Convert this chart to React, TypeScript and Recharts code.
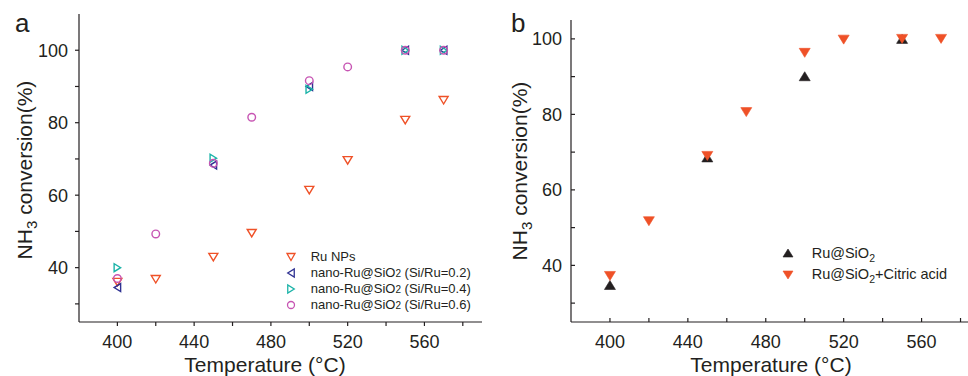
import React from 'react';
import { ScatterChart, Scatter, XAxis, YAxis, Label, Legend } from 'recharts';

const FONT = '"Liberation Sans", Arial, Helvetica, sans-serif';
const INK = '#231F20';
const ORANGE = '#EF5127';
const NAVY = '#2E3192';
const TEAL = '#1BB3A8';
const MAGENTA = '#C755B3';

// ---- data (panel a) ----
const tempsA = [400, 420, 450, 470, 500, 520, 550, 570];
const tempsA2 = [400, 450, 500, 550, 570];
const ruNPs = [36, 36.8, 42.9, 49.5, 61.4, 69.6, 80.7, 86.2];
const siRu02 = [34.5, 68.3, 90.0, 100, 100];
const siRu04 = [40, 70.2, 89.2, 100, 100];
const siRu06 = [37, 49.3, 68.8, 81.5, 91.6, 95.4, 100, 100];

// ---- data (panel b) ----
const tempsB1 = [400, 450, 500, 550];
const ruSiO2 = [34.8, 68.6, 90.1, 100];
const tempsB2 = [400, 420, 450, 470, 500, 520, 550, 570];
const citric = [37.2, 51.7, 69, 80.6, 96.3, 99.8, 100, 100];

// ---- ticks ----
const xTicks = [400, 420, 440, 460, 480, 500, 520, 540, 560, 580];
const xLabelTicks = [400, 440, 480, 520, 560];
const yTicks = [30, 40, 50, 60, 70, 80, 90, 100];
const yLabelTicks = [40, 60, 80, 100];

const toPts = (xs: number[], ys: number[]) => xs.map((x, i) => ({ x, y: ys[i] }));

const fmtX = (v: number) => (xLabelTicks.includes(v) ? String(v) : '');
const fmtY = (v: number) => (yLabelTicks.includes(v) ? String(v) : '');

type Dir = 'down' | 'up' | 'left' | 'right' | 'circle';

const triPoints = (dir: Dir, cx: number, cy: number, w: number, h: number) => {
  if (dir === 'down') return `${cx - w / 2},${cy - h / 2} ${cx + w / 2},${cy - h / 2} ${cx},${cy + h / 2}`;
  if (dir === 'up') return `${cx - w / 2},${cy + h / 2} ${cx + w / 2},${cy + h / 2} ${cx},${cy - h / 2}`;
  if (dir === 'left') return `${cx + h / 2},${cy - w / 2} ${cx + h / 2},${cy + w / 2} ${cx - h / 2},${cy}`;
  return `${cx - h / 2},${cy - w / 2} ${cx - h / 2},${cy + w / 2} ${cx + h / 2},${cy}`;
};

const makeShape = (dir: Dir, color: string, filled: boolean, w: number, h: number) => (props: any) => {
  const { cx, cy } = props;
  if (cx == null || cy == null) return <g />;
  if (dir === 'circle') {
    return <circle cx={cx} cy={cy} r={w / 2} fill="none" stroke={color} strokeWidth={1.4} />;
  }
  return (
    <polygon
      points={triPoints(dir, cx, cy, w, h)}
      fill={filled ? color : 'none'}
      stroke={color}
      strokeWidth={filled ? 0.6 : 1.4}
    />
  );
};

const MiniSymbol = ({ dir, color, filled, w, h }: { dir: Dir; color: string; filled: boolean; w: number; h: number }) => (
  <svg width={14} height={14} style={{ display: 'block', flex: 'none' }}>
    {dir === 'circle' ? (
      <circle cx={7} cy={7} r={w / 2} fill="none" stroke={color} strokeWidth={1.3} />
    ) : (
      <polygon points={triPoints(dir, 7, 7, w, h)} fill={filled ? color : 'none'} stroke={color} strokeWidth={filled ? 0.6 : 1.3} />
    )}
  </svg>
);

const legendAItems: { pre: string; sub: string; post: string; dir: Dir; color: string }[] = [
  { pre: 'Ru NPs', sub: '', post: '', dir: 'down', color: ORANGE },
  { pre: 'nano-Ru@SiO', sub: '2', post: ' (Si/Ru=0.2)', dir: 'left', color: NAVY },
  { pre: 'nano-Ru@SiO', sub: '2', post: ' (Si/Ru=0.4)', dir: 'right', color: TEAL },
  { pre: 'nano-Ru@SiO', sub: '2', post: ' (Si/Ru=0.6)', dir: 'circle', color: MAGENTA },
];

const LegendA = () => (
  <div style={{ fontFamily: FONT, color: INK, fontSize: 13 }}>
    {legendAItems.map((it) => (
      <div key={it.pre + it.post} style={{ display: 'flex', alignItems: 'center', height: 16, lineHeight: '16px', whiteSpace: 'nowrap' }}>
        <MiniSymbol dir={it.dir} color={it.color} filled={false} w={it.dir === 'circle' ? 7 : 8} h={it.dir === 'down' ? 7 : 6.5} />
        <span style={{ marginLeft: 12.7 }}>
          {it.pre}
          {it.sub && <span style={{ fontSize: 10 }}>{it.sub}</span>}
          {it.post}
        </span>
      </div>
    ))}
  </div>
);

const legendBItems: { pre: string; sub: string; post: string; dir: Dir; color: string }[] = [
  { pre: 'Ru@SiO', sub: '2', post: '', dir: 'up', color: INK },
  { pre: 'Ru@SiO', sub: '2', post: '+Citric acid', dir: 'down', color: ORANGE },
];

const LegendB = () => (
  <div style={{ fontFamily: FONT, color: INK, fontSize: 14.5 }}>
    {legendBItems.map((it) => (
      <div key={it.pre + it.post} style={{ display: 'flex', alignItems: 'center', height: 21.7, lineHeight: '21.7px', whiteSpace: 'nowrap' }}>
        <MiniSymbol dir={it.dir} color={it.color} filled={true} w={10} h={8} />
        <span style={{ marginLeft: 16.7 }}>
          {it.pre}
          <span style={{ fontSize: 10.5, verticalAlign: '-4px', lineHeight: 0 }}>{it.sub}</span>
          {it.post}
        </span>
      </div>
    ))}
  </div>
);

const tickStyle = { fontSize: 18, fill: INK, fontFamily: FONT };
const axisLine = { stroke: INK, strokeWidth: 1.2 };

const XTitle = (x: number, y: number) => () => (
  <text x={x} y={y} textAnchor="middle" fontSize={21} fill={INK} fontFamily={FONT}>
    Temperature (°C)
  </text>
);

const YTitle = (x: number, y: number) => () => (
  <text x={x} y={y} textAnchor="middle" fontSize={21} fill={INK} fontFamily={FONT} transform={`rotate(-90, ${x}, ${y})`}>
    NH<tspan fontSize={15} dy={5}>3</tspan>
    <tspan dy={-5}> conversion(%)</tspan>
  </text>
);

const PanelA = () => (
  <ScatterChart width={490} height={376} margin={{ top: 14, right: 8, bottom: 14, left: 19 }}>
    <XAxis
      type="number"
      dataKey="x"
      domain={[380, 590]}
      allowDataOverflow
      ticks={xTicks}
      tickFormatter={fmtX}
      interval={0}
      height={40}
      tick={tickStyle}
      tickSize={4}
      tickMargin={9}
      axisLine={axisLine}
      tickLine={axisLine}
    >
      <Label content={XTitle(265, 372)} />
    </XAxis>
    <XAxis xAxisId="top" orientation="top" type="number" domain={[380, 590]} allowDataOverflow height={0} tick={false} tickLine={false} axisLine={axisLine} />
    <YAxis
      type="number"
      dataKey="y"
      domain={[25, 110]}
      allowDataOverflow
      ticks={yTicks}
      tickFormatter={fmtY}
      interval={0}
      width={60}
      tick={tickStyle}
      tickSize={4}
      tickMargin={7}
      axisLine={axisLine}
      tickLine={axisLine}
    >
      <Label content={YTitle(32, 170)} />
    </YAxis>
    <YAxis yAxisId="right" orientation="right" type="number" domain={[25, 110]} allowDataOverflow ticks={yTicks} interval={0} width={0} tick={false} tickSize={-3} axisLine={axisLine} tickLine={axisLine} />
    <Scatter name="Ru NPs" data={toPts(tempsA, ruNPs)} isAnimationActive={false} shape={makeShape('down', ORANGE, false, 9, 7.5)} />
    <Scatter name="nano-Ru@SiO2 (Si/Ru=0.2)" data={toPts(tempsA2, siRu02)} isAnimationActive={false} shape={makeShape('left', NAVY, false, 8, 6.5)} />
    <Scatter name="nano-Ru@SiO2 (Si/Ru=0.4)" data={toPts(tempsA2, siRu04)} isAnimationActive={false} shape={makeShape('right', TEAL, false, 8, 6.5)} />
    <Scatter name="nano-Ru@SiO2 (Si/Ru=0.6)" data={toPts(tempsA, siRu06)} isAnimationActive={false} shape={makeShape('circle', MAGENTA, false, 7.6, 7.6)} />
    <Legend
      layout="vertical"
      align="center"
      verticalAlign="middle"
      content={() => <LegendA />}
      wrapperStyle={{ left: 284, top: 249.3, width: 'auto', height: 'auto' }}
    />
  </ScatterChart>
);

const PanelB = () => (
  <ScatterChart width={500} height={376} margin={{ top: 20, right: 10, bottom: 14, left: 21 }}>
    <XAxis
      type="number"
      dataKey="x"
      domain={[380, 590]}
      allowDataOverflow
      ticks={xTicks}
      tickFormatter={fmtX}
      interval={0}
      height={40}
      tick={tickStyle}
      tickSize={-4}
      tickMargin={17}
      axisLine={axisLine}
      tickLine={axisLine}
    >
      <Label content={XTitle(281, 372)} />
    </XAxis>
    <XAxis xAxisId="top" orientation="top" type="number" domain={[380, 590]} allowDataOverflow ticks={xTicks} interval={0} height={0} tick={false} tickSize={-4} axisLine={axisLine} tickLine={axisLine} />
    <YAxis
      type="number"
      dataKey="y"
      domain={[25, 105]}
      allowDataOverflow
      ticks={yTicks}
      tickFormatter={fmtY}
      interval={0}
      width={60}
      tick={tickStyle}
      tickSize={-4}
      tickMargin={13}
      axisLine={axisLine}
      tickLine={axisLine}
    >
      <Label content={YTitle(36.5, 171)} />
    </YAxis>
    <YAxis yAxisId="right" orientation="right" type="number" domain={[25, 105]} allowDataOverflow ticks={yTicks} interval={0} width={0} tick={false} tickSize={-4} axisLine={axisLine} tickLine={axisLine} />
    <Scatter name="Ru@SiO2" data={toPts(tempsB1, ruSiO2)} isAnimationActive={false} shape={makeShape('up', INK, true, 11, 9)} />
    <Scatter name="Ru@SiO2+Citric acid" data={toPts(tempsB2, citric)} isAnimationActive={false} shape={makeShape('down', ORANGE, true, 11, 9)} />
    <Legend
      layout="vertical"
      align="center"
      verticalAlign="middle"
      content={() => <LegendB />}
      wrapperStyle={{ left: 291, top: 242.5, width: 'auto', height: 'auto' }}
    />
  </ScatterChart>
);

export default function App() {
  return (
    <div style={{ position: 'absolute', left: 0, top: 0, width: 968, height: 376, overflow: 'hidden', background: '#fff', fontFamily: FONT }}>
      <div style={{ position: 'absolute', left: 0, top: 0 }}>
        <PanelA />
      </div>
      <div style={{ position: 'absolute', left: 490, top: 0 }}>
        <PanelB />
      </div>
      <svg width={968} height={376} style={{ position: 'absolute', left: 0, top: 0, pointerEvents: 'none' }}>
        <text x={15} y={32} fontSize={26} fill={INK} fontFamily={FONT}>a</text>
        <text x={511} y={31.5} fontSize={26} fill={INK} fontFamily={FONT}>b</text>
      </svg>
    </div>
  );
}
